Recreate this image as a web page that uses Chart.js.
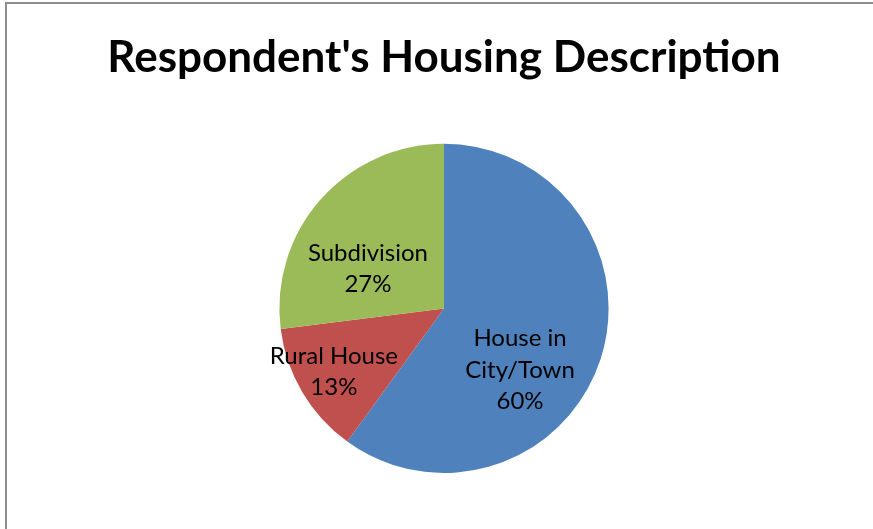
<!DOCTYPE html>
<html>
<head>
<meta charset="utf-8">
<script src="https://cdn.jsdelivr.net/npm/chart.js@4"></script>
<style>
html,body{margin:0;padding:0;background:#fff;overflow:hidden;}
#wrap{position:relative;width:873px;height:529px;}
#frame{position:absolute;left:5px;top:2px;width:900px;height:600px;border-top:2px solid #8c8c8c;border-left:2px solid #8c8c8c;pointer-events:none;}
canvas{position:absolute;left:0;top:0;}
</style>
</head>
<body>
<div id="wrap">
<canvas id="c" width="873" height="529"></canvas>
<div id="frame"></div>
</div>
<script>
const chartTitle = "Respondent's Housing Description";
const categories = ["House in City/Town", "Rural House", "Subdivision"];
const labelLines = [["House in", "City/Town"], ["Rural House"], ["Subdivision"]];
const values = [60, 13, 27];
const colors = ["#4F81BD", "#C0504D", "#9BBB59"];

// label placement (offset from pie centre in units of radius)
const labelOffsets = [[0.462, 0.374], [-0.669, 0.386], [-0.462, -0.240]];

const labelPlugin = {
  id: 'sliceLabels',
  afterDatasetsDraw(chart) {
    const ctx = chart.ctx;
    const meta = chart.getDatasetMeta(0);
    const total = values.reduce((a, b) => a + b, 0);
    ctx.save();
    ctx.font = '24px Lato, "Open Sans", sans-serif';
    ctx.fillStyle = '#000';
    ctx.textAlign = 'center';
    ctx.textBaseline = 'middle';
    const lh = 31.5;
    meta.data.forEach((arc, i) => {
      const r = arc.outerRadius;
      const cx = arc.x + labelOffsets[i][0] * r;
      const cy = arc.y + labelOffsets[i][1] * r;
      const lines = labelLines[i].concat([Math.round(values[i] / total * 100) + '%']);
      const start = cy - (lines.length - 1) * lh / 2;
      lines.forEach((t, j) => ctx.fillText(t, cx, start + j * lh));
    });
    ctx.restore();
  }
};

new Chart(document.getElementById('c'), {
  type: 'pie',
  data: {
    labels: categories,
    datasets: [{
      data: values,
      backgroundColor: colors,
      borderWidth: 0
    }]
  },
  options: {
    responsive: false,
    animation: false,
    layout: { padding: { top: 0, left: 15, right: 0, bottom: 56 } },
    plugins: {
      legend: { display: false },
      tooltip: { enabled: false },
      title: {
        display: true,
        text: chartTitle,
        color: '#000',
        font: { family: 'Lato, "Open Sans", sans-serif', size: 44, weight: 'bold', lineHeight: 1.2 },
        padding: { top: 31, bottom: 60 }
      }
    }
  },
  plugins: [labelPlugin]
});
</script>
</body>
</html>
